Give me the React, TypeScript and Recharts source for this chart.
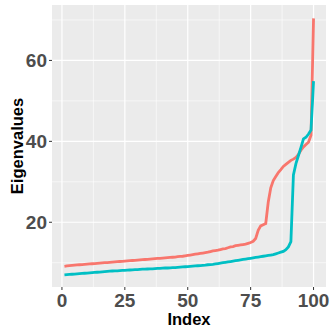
import { LineChart, Line, XAxis, YAxis, ReferenceLine, ReferenceArea, Label } from "recharts";

const redValues = [
  9.1, 9.2, 9.3, 9.35, 9.4, 9.45, 9.5, 9.55, 9.6, 9.65,
  9.7, 9.75, 9.8, 9.85, 9.9, 9.95, 10.0, 10.05, 10.1, 10.15,
  10.2, 10.25, 10.3, 10.35, 10.4, 10.45, 10.5, 10.55, 10.6, 10.65,
  10.7, 10.75, 10.8, 10.85, 10.9, 10.95, 11.0, 11.05, 11.1, 11.15,
  11.2, 11.25, 11.3, 11.35, 11.4, 11.5, 11.55, 11.6, 11.7, 11.8,
  11.9, 12.0, 12.1, 12.2, 12.3, 12.4, 12.5, 12.6, 12.75, 12.9,
  13.0, 13.1, 13.25, 13.4, 13.5, 13.7, 13.9, 14.0, 14.2, 14.3,
  14.4, 14.5, 14.6, 14.8, 15.0, 15.3, 16.0, 18.0, 19.1, 19.4,
  19.7, 25.0, 28.5, 30.3, 31.3, 32.3, 33.0, 33.8, 34.3, 34.8,
  35.3, 35.6, 36.0, 36.8, 37.8, 38.6, 39.2, 39.8, 41.5, 70.4,
];

const tealValues = [
  7.0, 7.05, 7.1, 7.15, 7.2, 7.25, 7.3, 7.35, 7.4, 7.45,
  7.5, 7.55, 7.6, 7.65, 7.7, 7.75, 7.8, 7.85, 7.9, 7.95,
  8.0, 8.0, 8.05, 8.1, 8.1, 8.15, 8.2, 8.25, 8.3, 8.3,
  8.35, 8.4, 8.4, 8.45, 8.5, 8.5, 8.55, 8.6, 8.6, 8.65,
  8.7, 8.7, 8.75, 8.8, 8.8, 8.85, 8.9, 8.95, 9.0, 9.05,
  9.1, 9.15, 9.2, 9.25, 9.3, 9.35, 9.4, 9.5, 9.55, 9.6,
  9.7, 9.8, 9.9, 10.0, 10.1, 10.2, 10.3, 10.4, 10.5, 10.6,
  10.7, 10.8, 10.9, 11.0, 11.1, 11.2, 11.3, 11.4, 11.5, 11.6,
  11.7, 11.8, 11.9, 12.0, 12.2, 12.4, 12.6, 12.8, 13.2, 13.9,
  15.2, 31.7, 34.5, 36.5, 38.5, 40.6, 41.0, 41.8, 42.8, 54.9,
];

const xTicks = [0, 25, 50, 75, 100];
const xMinor = [12.5, 37.5, 62.5, 87.5];
const yTicks = [20, 40, 60];
const yMinor = [10, 30, 50, 70];

const X_DOMAIN: [number, number] = [-3.95, 104.95];
const Y_DOMAIN: [number, number] = [4.0, 73.7];

const data = redValues.map((v, i) => ({ index: i + 1, red: v, teal: tealValues[i] }));

const FONT = "'Liberation Sans', Arial, sans-serif";
const tickStyle = { fill: "#4D4D4D", fontSize: 19, fontWeight: "bold", fontFamily: FONT };

export default function App() {
  return (
    <div style={{ position: "absolute", left: 0, top: 0 }}>
      <LineChart width={332} height={332} data={data} margin={{ top: 5, right: 6, bottom: 0, left: 0 }}>
        <XAxis
          dataKey="index"
          type="number"
          domain={X_DOMAIN}
          ticks={xTicks}
          allowDataOverflow
          height={45}
          axisLine={false}
          tickSize={3}
          tickMargin={4}
          tickLine={{ stroke: "#333333" }}
          tick={tickStyle}
        >
          <Label
            content={(props: any) => {
              const vb = props.viewBox;
              return (
                <text
                  x={vb.x + vb.width / 2}
                  y={325}
                  textAnchor="middle"
                  fontSize={16.5}
                  fontWeight="bold"
                  fontFamily={FONT}
                  fill="#000000"
                >
                  Index
                </text>
              );
            }}
          />
        </XAxis>
        <YAxis
          type="number"
          domain={Y_DOMAIN}
          ticks={yTicks}
          allowDataOverflow
          width={52}
          axisLine={false}
          tickSize={3}
          tickMargin={2}
          tickLine={{ stroke: "#333333" }}
          tick={tickStyle}
        >
          <Label
            content={(props: any) => {
              const vb = props.viewBox;
              const cy = vb.y + vb.height / 2;
              return (
                <text
                  x={23}
                  y={cy}
                  transform={`rotate(-90, 23, ${cy})`}
                  textAnchor="middle"
                  fontSize={16.5}
                  fontWeight="bold"
                  fontFamily={FONT}
                  fill="#000000"
                >
                  Eigenvalues
                </text>
              );
            }}
          />
        </YAxis>
        <ReferenceArea
          x1={X_DOMAIN[0]}
          x2={X_DOMAIN[1]}
          y1={Y_DOMAIN[0]}
          y2={Y_DOMAIN[1]}
          fill="#EBEBEB"
          fillOpacity={1}
          stroke="none"
        />
        {yMinor.map((v) => (
          <ReferenceLine key={`ym-${v}`} y={v} stroke="#FFFFFF" strokeWidth={0.6} />
        ))}
        {xMinor.map((v) => (
          <ReferenceLine key={`xm-${v}`} x={v} stroke="#FFFFFF" strokeWidth={0.6} />
        ))}
        {yTicks.map((v) => (
          <ReferenceLine key={`y-${v}`} y={v} stroke="#FFFFFF" strokeWidth={1.2} />
        ))}
        {xTicks.map((v) => (
          <ReferenceLine key={`x-${v}`} x={v} stroke="#FFFFFF" strokeWidth={1.2} />
        ))}
        <Line
          dataKey="red"
          stroke="#F8766D"
          strokeWidth={2.8}
          dot={false}
          type="linear"
          isAnimationActive={false}
        />
        <Line
          dataKey="teal"
          stroke="#00BFC4"
          strokeWidth={2.8}
          dot={false}
          type="linear"
          isAnimationActive={false}
        />
      </LineChart>
    </div>
  );
}
